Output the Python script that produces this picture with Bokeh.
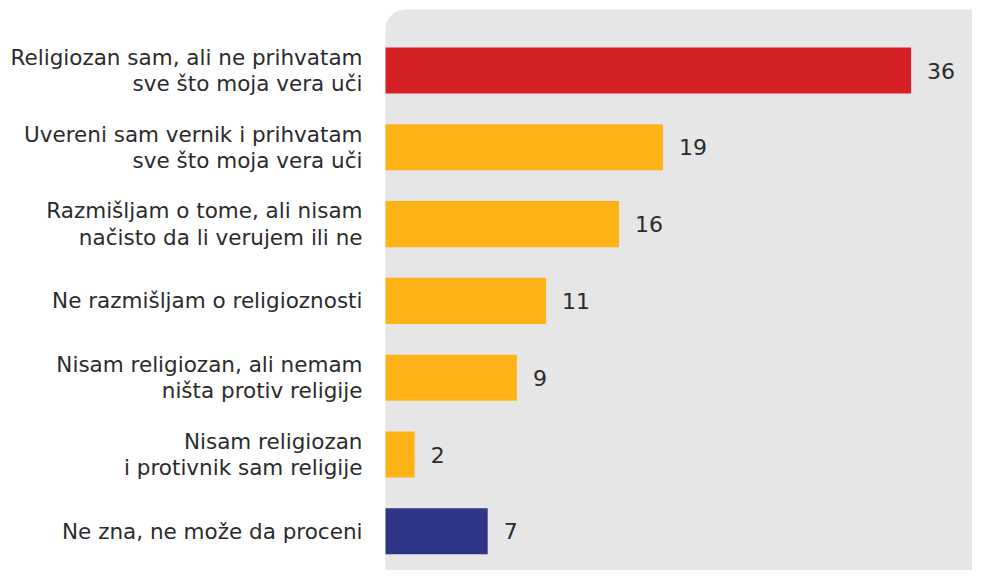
from bokeh.plotting import figure
from bokeh.models import ColumnDataSource, Range1d, BoxAnnotation
from bokeh.core.properties import value
from bokeh.embed import file_html
from bokeh.resources import INLINE

labels = [
    "Religiozan sam, ali ne prihvatam\nsve što moja vera uči",
    "Uvereni sam vernik i prihvatam\nsve što moja vera uči",
    "Razmišljam o tome, ali nisam\nnačisto da li verujem ili ne",
    "Ne razmišljam o religioznosti",
    "Nisam religiozan, ali nemam\nništa protiv religije",
    "Nisam religiozan\ni protivnik sam religije",
    "Ne zna, ne može da proceni",
]
values = [36, 19, 16, 11, 9, 2, 7]
colors = ["#D52027", "#FDB315", "#FDB315", "#FDB315", "#FDB315", "#FDB315", "#2E3486"]

FONT = "DejaVu Sans"
W, H = 972, 570
px_per_unit = 14.6
row_px = 76.8
zero_px = 385
first_px = 70

pos = list(range(len(values)))
src = ColumnDataSource(dict(y=pos, v=values, c=colors, lab=labels,
                            vt=[str(v) for v in values]))

p = figure(width=W, height=H, output_backend="svg", toolbar_location=None,
           x_range=Range1d(-zero_px / px_per_unit, (W - zero_px) / px_per_unit),
           y_range=Range1d((H - first_px) / row_px, -first_px / row_px),
           min_border=0, outline_line_color=None)
p.axis.visible = False
p.grid.visible = False
p.background_fill_color = "white"
p.border_fill_color = "white"

top_y = -first_px / row_px + 9 / row_px
bot_y = -first_px / row_px + 586 / row_px
panel = BoxAnnotation(left=0, right=(990 - zero_px) / px_per_unit, top=top_y, bottom=bot_y,
                      fill_color="#E6E6E6", fill_alpha=1, line_color=None,
                      border_radius=20, level="underlay")
p.add_layout(panel)

p.hbar(y="y", left=0, right="v", height=0.6, color="c", line_color=None, source=src)

p.text(x=0, y="y", text="lab", source=src, x_offset=-23, text_align="right",
       text_baseline="middle", text_font=value(FONT), text_font_size="21.5px",
       text_color="#2B2B2B", text_line_height=1.05)
p.text(x="v", y="y", text="vt", source=src, x_offset=16, text_align="left",
       text_baseline="middle", text_font=value(FONT), text_font_size="22px",
       text_color="#2B2B2B")

open("out.html", "w").write(file_html(p, INLINE))
